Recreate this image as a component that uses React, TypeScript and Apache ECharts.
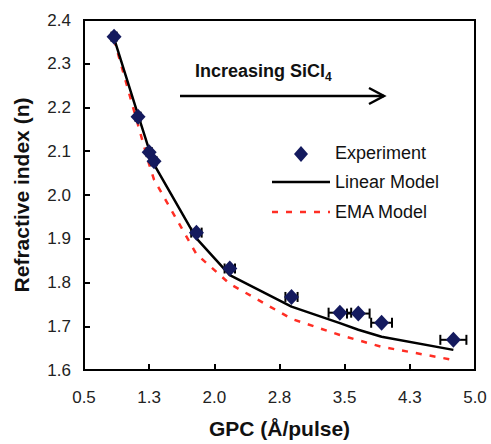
import React, { useEffect, useRef } from "react";
import * as echarts from "echarts";

const gpc = [0.846, 1.122, 1.25, 1.306, 1.794, 2.178, 2.888, 3.445, 3.657, 3.925, 4.751];
const nExp = [2.362, 2.179, 2.098, 2.077, 1.914, 1.832, 1.767, 1.731, 1.729, 1.708, 1.669];
const gpcErr = [0.03, 0.03, 0.03, 0.03, 0.06, 0.06, 0.07, 0.13, 0.13, 0.12, 0.15];
const nLinear = [2.358, 2.183, 2.103, 2.07, 1.901, 1.817, 1.745, 1.707, 1.692, 1.676, 1.646];
const nEMA = [2.355, 2.16, 2.07, 2.035, 1.865, 1.797, 1.717, 1.68, 1.668, 1.653, 1.623];
const xTicks = [0.5, 1.25, 2.0, 2.75, 3.5, 4.25, 5.0];

const FONT = "'Liberation Sans', Arial, sans-serif";
const NAVY = "#141a5e";
const RED = "#ff2e24";

export default function App() {
  const ref = useRef<HTMLDivElement>(null);
  useEffect(() => {
    const chart = echarts.init(ref.current!, null, { renderer: "svg" });
    const expData = gpc.map((x, i) => [x, nExp[i]]);
    const errData = gpc.map((x, i) => [x, nExp[i], gpcErr[i]]);
    chart.setOption({
      animation: false,
      backgroundColor: "#fff",
      grid: {
        left: 84,
        right: 16,
        top: 20,
        bottom: 74,
        show: true,
        borderColor: "#000",
        borderWidth: 2,
        backgroundColor: "transparent",
      },
      xAxis: {
        type: "value",
        min: 0.5,
        max: 5.0,
        name: "GPC (Å/pulse)",
        nameLocation: "middle",
        nameGap: 48,
        nameTextStyle: { fontFamily: FONT, fontWeight: "bold", fontSize: 21, color: "#111" },
        axisLine: { show: true, lineStyle: { color: "#000", width: 2 } },
        axisTick: { show: true, inside: true, length: 6, lineStyle: { color: "#000", width: 2 }, customValues: xTicks },
        axisLabel: {
          color: "#222",
          fontFamily: FONT,
          fontSize: 17,
          margin: 19,
          customValues: xTicks,
          formatter: (v: number) => v.toFixed(1),
        },
        splitLine: { show: false },
      },
      yAxis: {
        type: "value",
        min: 1.6,
        max: 2.4,
        interval: 0.1,
        name: "Refractive index (n)",
        nameLocation: "middle",
        nameGap: 52,
        nameTextStyle: { fontFamily: FONT, fontWeight: "bold", fontSize: 21, color: "#111" },
        axisLine: { show: true, lineStyle: { color: "#000", width: 2 } },
        axisTick: { show: true, inside: true, length: 6, lineStyle: { color: "#000", width: 2 } },
        axisLabel: {
          color: "#222",
          fontFamily: FONT,
          fontSize: 17,
          margin: 13,
          formatter: (v: number) => v.toFixed(1),
        },
        splitLine: { show: false },
      },
      series: [
        {
          name: "EMA Model",
          type: "line",
          data: gpc.map((x, i) => [x, nEMA[i]]),
          showSymbol: false,
          lineStyle: { color: RED, width: 2.5, type: [6, 8] },
          z: 2,
        },
        {
          name: "Linear Model",
          type: "line",
          data: gpc.map((x, i) => [x, nLinear[i]]),
          showSymbol: false,
          lineStyle: { color: "#000", width: 2.5 },
          z: 3,
        },
        {
          name: "Error",
          type: "custom",
          data: errData,
          z: 4,
          renderItem: (params: any, api: any) => {
            const x = api.value(0);
            const y = api.value(1);
            const e = api.value(2);
            const p1 = api.coord([x - e, y]);
            const p2 = api.coord([x + e, y]);
            const h = 5;
            const style = { stroke: "#000", lineWidth: 2 };
            return {
              type: "group",
              children: [
                { type: "line", shape: { x1: p1[0], y1: p1[1], x2: p2[0], y2: p2[1] }, style },
                { type: "line", shape: { x1: p1[0], y1: p1[1] - h, x2: p1[0], y2: p1[1] + h }, style },
                { type: "line", shape: { x1: p2[0], y1: p2[1] - h, x2: p2[0], y2: p2[1] + h }, style },
              ],
            };
          },
        },
        {
          name: "Experiment",
          type: "scatter",
          data: expData,
          symbol: "diamond",
          symbolSize: [15, 16],
          itemStyle: { color: NAVY, opacity: 1 },
          z: 5,
        },
      ],
      graphic: [
        {
          type: "text",
          left: 195,
          top: 62,
          style: {
            text: "Increasing SiCl{sub|4}",
            fontFamily: FONT,
            fontWeight: "bold",
            fontSize: 18,
            fill: "#111",
            rich: {
              sub: { fontSize: 12, fontWeight: "bold", fontFamily: FONT, padding: [11, 0, 0, 0], fill: "#111" },
            },
          },
        },
        { type: "line", shape: { x1: 180, y1: 96, x2: 384, y2: 96 }, style: { stroke: "#000", lineWidth: 2.5 } },
        {
          type: "polyline",
          shape: { points: [[369, 88], [384, 96], [369, 104]] },
          style: { stroke: "#000", lineWidth: 2.5, fill: null },
        },
        {
          type: "polygon",
          shape: { points: [[301, 146], [308, 154], [301, 162], [294, 154]] },
          style: { fill: NAVY },
        },
        {
          type: "text",
          left: 335,
          top: 144,
          style: { text: "Experiment", fontFamily: FONT, fontSize: 18, fill: "#111" },
        },
        { type: "line", shape: { x1: 272, y1: 182, x2: 330, y2: 182 }, style: { stroke: "#000", lineWidth: 2.5 } },
        {
          type: "text",
          left: 335,
          top: 173,
          style: { text: "Linear Model", fontFamily: FONT, fontSize: 18, fill: "#111" },
        },
        {
          type: "line",
          shape: { x1: 272, y1: 212, x2: 330, y2: 212 },
          style: { stroke: RED, lineWidth: 2.5, lineDash: [6, 8] },
        },
        {
          type: "text",
          left: 335,
          top: 203,
          style: { text: "EMA Model", fontFamily: FONT, fontSize: 18, fill: "#111" },
        },
      ],
    });
    return () => chart.dispose();
  }, []);
  return <div ref={ref} style={{ width: 491, height: 444, position: "absolute", left: 0, top: 0 }} />;
}
